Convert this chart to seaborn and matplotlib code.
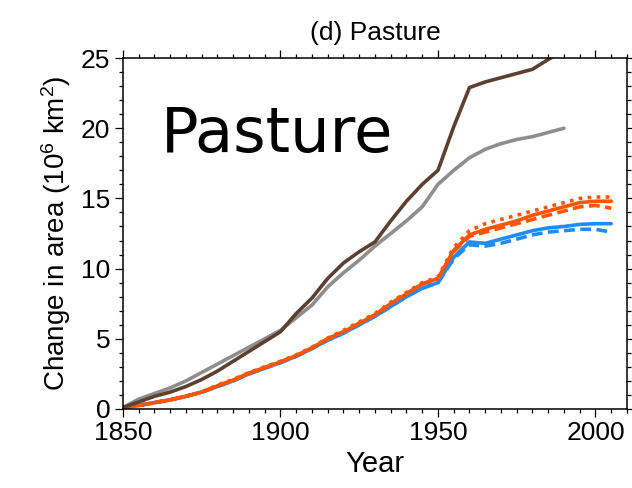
import matplotlib
matplotlib.use("Agg")
import matplotlib.pyplot as plt
import pandas as pd
import seaborn as sns
from matplotlib.ticker import MultipleLocator

years = list(range(1850, 2010, 5))

brown = [0.1, 0.5, 0.9, 1.2, 1.6, 2.1, 2.7, 3.4, 4.1, 4.8, 5.5, 6.8, 7.9, 9.3, 10.4,
         11.2, 11.9, 13.4, 14.8, 16.0, 17.0, 20.1, 22.9, 23.3, 23.6, 23.9, 24.2, 24.9, 25.6]
gray = [0.1, 0.7, 1.1, 1.5, 2.0, 2.6, 3.2, 3.8, 4.4, 5.0, 5.6, 6.5, 7.4, 8.7, 9.7,
        10.6, 11.6, 12.5, 13.4, 14.4, 16.0, 17.0, 17.9, 18.5, 18.9, 19.2, 19.4, 19.7, 20.0]
orange = [0.1, 0.25, 0.45, 0.65, 0.9, 1.2, 1.65, 2.05, 2.55, 2.95, 3.35, 3.8, 4.35, 5.0,
          5.5, 6.1, 6.7, 7.5, 8.2, 8.9, 9.3, 11.3, 12.4, 12.8, 13.1, 13.4, 13.8, 14.1,
          14.4, 14.7, 14.8, 14.8]
orange_dot = [0.1, 0.25, 0.45, 0.65, 0.9, 1.2, 1.7, 2.1, 2.6, 3.0, 3.4, 3.85, 4.4, 5.05,
              5.6, 6.2, 6.8, 7.6, 8.3, 9.0, 9.4, 11.5, 12.7, 13.2, 13.5, 13.8, 14.1, 14.4,
              14.7, 15.0, 15.1, 15.1]
orange_dash = [0.1, 0.25, 0.45, 0.65, 0.9, 1.2, 1.65, 2.05, 2.55, 2.95, 3.35, 3.8, 4.35,
               5.0, 5.5, 6.1, 6.7, 7.5, 8.2, 8.9, 9.3, 11.2, 12.3, 12.6, 12.9, 13.2, 13.5,
               13.8, 14.1, 14.4, 14.5, 14.3]
blue = [0.1, 0.25, 0.45, 0.65, 0.9, 1.2, 1.6, 2.0, 2.5, 2.9, 3.3, 3.75, 4.3, 4.9, 5.4,
        6.0, 6.6, 7.3, 8.0, 8.6, 9.0, 10.8, 11.9, 11.8, 12.1, 12.4, 12.7, 12.9, 13.0,
        13.15, 13.2, 13.2]
blue_dash = [0.1, 0.25, 0.45, 0.65, 0.9, 1.2, 1.6, 2.0, 2.5, 2.9, 3.3, 3.75, 4.3, 4.9,
             5.4, 6.0, 6.6, 7.3, 8.0, 8.6, 9.0, 10.7, 11.7, 11.6, 11.8, 12.1, 12.4, 12.6,
             12.7, 12.8, 12.8, 12.6]

sns.set_style("ticks")
plt.rcParams["font.family"] = ["Liberation Sans", "DejaVu Sans"]
plt.rcParams["mathtext.default"] = "regular"
plt.rcParams["text.color"] = "black"
plt.rcParams["axes.labelcolor"] = "black"

fig = plt.figure(figsize=(6.32, 4.88), dpi=100)
ax = fig.add_axes([0.1946, 0.162, 0.7974, 0.719])

lw = 2.6
series = [
    (blue_dash, "#1e8cff", (0, (3, 1.5))),
    (blue, "#1e8cff", "-"),
    (orange_dash, "#ff5500", (0, (3, 1.5))),
    (orange_dot, "#ff5500", (0, (1, 1.5))),
    (orange, "#ff5500", "-"),
    (gray, "#8e8e8e", "-"),
    (brown, "#5c4031", "-"),
]
for vals, color, ls in series:
    df = pd.DataFrame({"year": years[:len(vals)], "value": vals})
    sns.lineplot(data=df, x="year", y="value", color=color, linewidth=lw,
                 linestyle=ls, ax=ax)

ax.set_xlim(1850, 2010)
ax.set_ylim(0, 25)
ax.xaxis.set_major_locator(MultipleLocator(50))
ax.xaxis.set_minor_locator(MultipleLocator(5))
ax.yaxis.set_major_locator(MultipleLocator(5))
ax.yaxis.set_minor_locator(MultipleLocator(1))
ax.tick_params(which="both", direction="out", top=True, right=True,
               colors="black", width=0.9)
ax.tick_params(which="major", length=5.5, labelsize=19)
ax.tick_params(which="minor", length=3)
for s in ax.spines.values():
    s.set_linewidth(1.1)
    s.set_color("black")

ax.set_xlabel("Year", fontsize=21, labelpad=3)
ax.set_ylabel("Change in area (10$^6$ km$^2$)", fontsize=20, labelpad=6)
ax.set_title("(d) Pasture", fontsize=19, pad=13)
ax.text(0.075, 0.78, "Pasture", transform=ax.transAxes, fontsize=45,
        family="DejaVu Sans", color="black", va="center", ha="left")

fig.savefig("out.png", dpi=100)
plt.close(fig)
